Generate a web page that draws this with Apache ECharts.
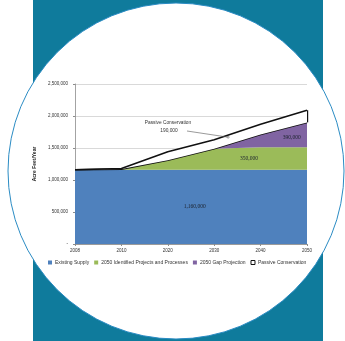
<!DOCTYPE html>
<html>
<head>
<meta charset="utf-8">
<script src="https://cdn.jsdelivr.net/npm/echarts@6/dist/echarts.min.js"></script>
<style>
  html, body { margin: 0; padding: 0; background: #ffffff; }
  #chart { width: 345px; height: 341px; }
</style>
</head>
<body>
<div id="chart"></div>
<script>
// Water supply outlook, acre-feet per year
const years = ['2008', '2010', '2020', '2030', '2040', '2050'];
const existingSupply = [1160000, 1160000, 1160000, 1160000, 1160000, 1160000];
const identifiedProjects = [0, 10000, 150000, 330000, 350000, 350000];
const gapProjection = [0, 0, 0, 0, 200000, 390000];
const passiveConservation = [0, 10000, 130000, 140000, 160000, 190000];
const yTicks = [0, 500000, 1000000, 1500000, 2000000, 2500000];

const seriesNames = ['Existing Supply', '2050 Identified Projects and Processes', '2050 Gap Projection', 'Passive Conservation'];
const colors = ['#4f81bd', '#9bbb59', '#8064a2', '#ffffff'];

const fmt = v => v === 0 ? '-' : v.toLocaleString('en-US');
const last = years.length - 1;
const lowerTop = existingSupply[last] + identifiedProjects[last] + gapProjection[last];
const upperTop = lowerTop + passiveConservation[last];

const chart = echarts.init(document.getElementById('chart'), null, { renderer: 'canvas' });

function areaSeries(i, data, lineW) {
  return {
    name: seriesNames[i],
    type: 'line',
    stack: 'supply',
    data: data,
    symbol: 'none',
    smooth: false,
    itemStyle: { color: colors[i], borderColor: i === 3 ? '#000' : colors[i], borderWidth: i === 3 ? 1 : 0 },
    lineStyle: { width: lineW, color: '#111' },
    areaStyle: { color: colors[i], opacity: 1 },
    z: 2 + i
  };
}

const passive = areaSeries(3, passiveConservation, 1.6);
passive.markLine = {
  silent: true,
  symbol: ['none', 'none'],
  label: { show: false },
  lineStyle: { color: '#111', width: 1.4, type: 'solid' },
  data: [[{ coord: [last, lowerTop] }, { coord: [last, upperTop] }]]
};

const background = [
  { type: 'rect', z: -20, silent: true, shape: { x: 33, y: 0, width: 290, height: 341 }, style: { fill: '#0f7b9c' } },
  { type: 'circle', z: -19, silent: true, shape: { cx: 176, cy: 171, r: 168 }, style: { fill: '#ffffff', stroke: '#2a8bc3', lineWidth: 1 } }
];

chart.setOption({
  animation: false,
  textStyle: { fontFamily: 'Liberation Sans' },
  graphic: background,
  grid: { left: 75, right: 38, top: 84, bottom: 97, containLabel: false },
  legend: {
    bottom: 71,
    left: 43,
    itemWidth: 4,
    itemHeight: 4,
    itemGap: 5,
    icon: 'rect',
    textStyle: { fontSize: 5, color: '#333', padding: [0, 0, 0, -2] },
    data: seriesNames.map((n, i) => ({
      name: n,
      itemStyle: i === 3 ? { color: '#fff', borderColor: '#111', borderWidth: 1 } : { color: colors[i] }
    }))
  },
  xAxis: {
    type: 'category',
    data: years,
    boundaryGap: false,
    axisLine: { lineStyle: { color: '#8c8c8c', width: 0.8 } },
    axisTick: { show: true, length: 2, lineStyle: { color: '#8c8c8c' } },
    axisLabel: { fontSize: 4.5, color: '#333', margin: 4 }
  },
  yAxis: {
    type: 'value',
    min: yTicks[0],
    max: yTicks[yTicks.length - 1],
    interval: yTicks[1] - yTicks[0],
    name: 'Acre Feet/Year',
    nameLocation: 'middle',
    nameRotate: 90,
    nameGap: 33,
    nameTextStyle: { fontSize: 5, fontWeight: 'bold', color: '#222' },
    axisLine: { show: true, lineStyle: { color: '#8c8c8c', width: 0.8 } },
    axisTick: { show: true, length: 2, lineStyle: { color: '#8c8c8c' } },
    splitLine: { show: true, lineStyle: { color: '#c8c8c8', width: 0.7 } },
    axisLabel: { fontSize: 4.5, color: '#333', margin: 7, formatter: fmt }
  },
  series: [
    areaSeries(0, existingSupply, 0),
    areaSeries(1, identifiedProjects, 0),
    areaSeries(2, gapProjection, 1.6),
    passive
  ]
});

// position a point at a fractional category index and an axis value
function at(idx, value) {
  const i0 = Math.floor(idx), i1 = Math.min(i0 + 1, last);
  const p0 = chart.convertToPixel({ gridIndex: 0 }, [i0, value]);
  const p1 = chart.convertToPixel({ gridIndex: 0 }, [i1, value]);
  const t = idx - i0;
  return [p0[0] + (p1[0] - p0[0]) * t, p0[1]];
}

const labelFont = { fontSize: 5.5, fontFamily: 'Liberation Serif', fill: '#1d2430', align: 'center', verticalAlign: 'middle' };
const pExisting = at(2.58, existingSupply[last] * 0.51);
const pIdentified = at(3.75, existingSupply[last] + identifiedProjects[last] / 2);
const pGap = at(4.67, existingSupply[last] + identifiedProjects[last] + gapProjection[last] * 0.4);
const pArrow = at(3.3, existingSupply[3] + identifiedProjects[3] + 0.7 * (identifiedProjects[4] - identifiedProjects[3]) + gapProjection[4] * 0.3 + passiveConservation[3] * 0.75);

const txt = { fontSize: 4.8, fill: '#333', align: 'center', verticalAlign: 'middle', fontFamily: 'Liberation Sans' };

chart.setOption({
  graphic: background.concat([
    { type: 'text', z: 50, x: pExisting[0], y: pExisting[1], style: Object.assign({ text: fmt(existingSupply[last]) }, labelFont) },
    { type: 'text', z: 50, x: pIdentified[0], y: pIdentified[1], style: Object.assign({ text: fmt(identifiedProjects[last]) }, labelFont) },
    { type: 'text', z: 50, x: pGap[0], y: pGap[1], style: Object.assign({ text: fmt(gapProjection[last]) }, labelFont) },
    { type: 'text', z: 50, x: 168, y: 123, style: Object.assign({ text: 'Passive Conservation' }, txt) },
    { type: 'text', z: 50, x: 169, y: 131, style: Object.assign({ text: fmt(passiveConservation[last]) }, txt) },
    { type: 'line', z: 50, silent: true, shape: { x1: 187, y1: 131, x2: pArrow[0], y2: pArrow[1] }, style: { stroke: '#555', lineWidth: 0.6 } },
    { type: 'circle', z: 51, silent: true, shape: { cx: pArrow[0], cy: pArrow[1], r: 1 }, style: { fill: '#fff', stroke: '#444', lineWidth: 0.5 } }
  ])
});
</script>
</body>
</html>
